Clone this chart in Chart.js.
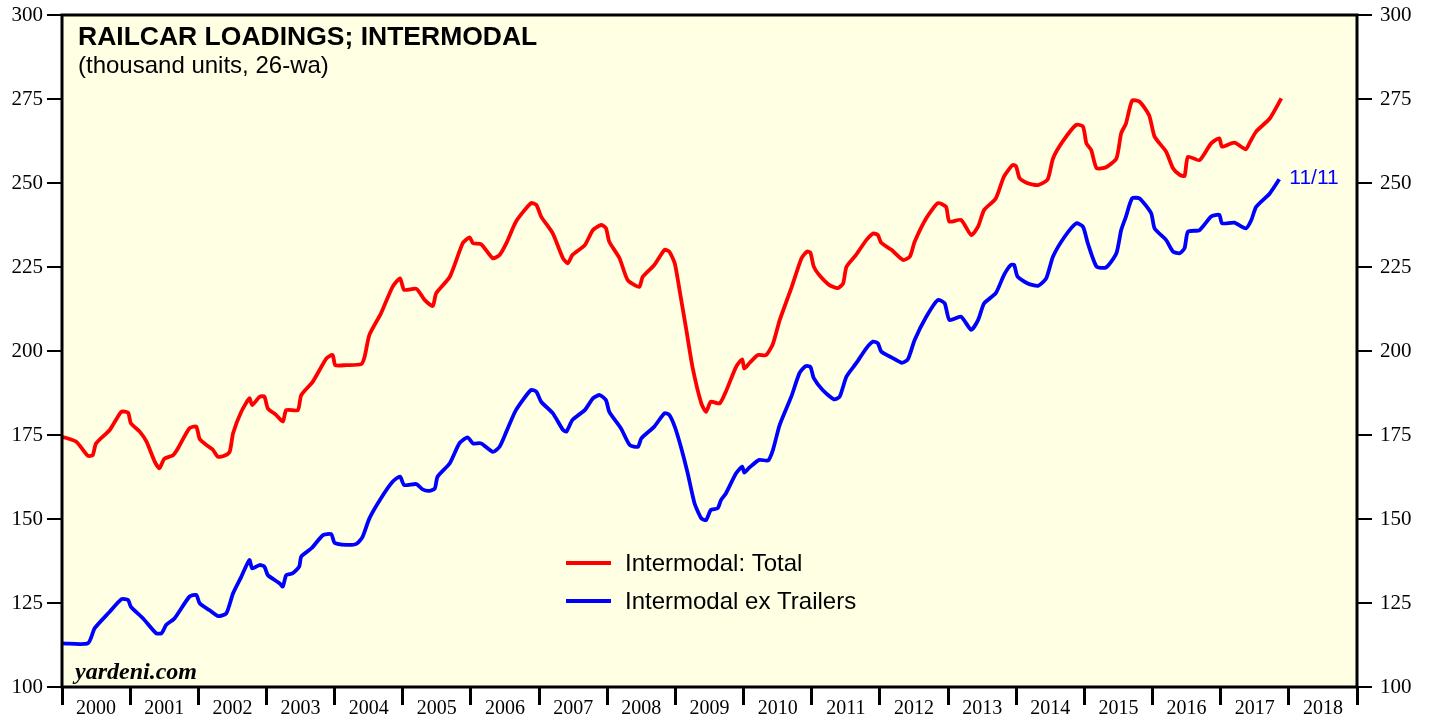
<!DOCTYPE html>
<html>
<head>
<meta charset="utf-8">
<script src="https://cdn.jsdelivr.net/npm/chart.js@4/dist/chart.umd.min.js"></script>
<style>
  html, body { margin: 0; padding: 0; background: #fff; }
  #wrap { width: 1429px; height: 721px; }
</style>
</head>
<body>
<div id="wrap"><canvas id="chart" width="1429" height="721"></canvas></div>
<script>
// x positions are decimal years (weekly series, 26-week average)
const totalYears = [
  2000.00, 2000.21, 2000.38, 2000.45, 2000.50, 2000.70, 2000.87, 2000.97,
  2001.01, 2001.14, 2001.24, 2001.36, 2001.43, 2001.50, 2001.63, 2001.70, 2001.87, 2001.97,
  2002.02, 2002.14, 2002.21, 2002.29, 2002.38, 2002.46, 2002.51, 2002.63, 2002.75, 2002.79, 2002.90, 2002.97,
  2003.02, 2003.14, 2003.24, 2003.29, 2003.46, 2003.51, 2003.68, 2003.88, 2003.97,
  2004.01, 2004.17, 2004.39, 2004.44, 2004.51, 2004.68, 2004.85, 2004.96,
  2005.02, 2005.20, 2005.32, 2005.44, 2005.49, 2005.69, 2005.88, 2005.98,
  2006.03, 2006.15, 2006.32, 2006.42, 2006.52, 2006.66, 2006.88, 2006.96,
  2007.03, 2007.20, 2007.35, 2007.42, 2007.49, 2007.67, 2007.79, 2007.91, 2007.98,
  2008.03, 2008.18, 2008.30, 2008.47, 2008.52, 2008.69, 2008.84, 2008.91, 2008.99,
  2009.06, 2009.16, 2009.25, 2009.38, 2009.45, 2009.52, 2009.65, 2009.74, 2009.89, 2009.98,
  2010.01, 2010.09, 2010.21, 2010.33, 2010.43, 2010.53, 2010.70, 2010.85, 2010.93, 2010.98,
  2011.03, 2011.11, 2011.26, 2011.38, 2011.46, 2011.51, 2011.65, 2011.80, 2011.90, 2011.97,
  2012.02, 2012.17, 2012.34, 2012.44, 2012.51, 2012.68, 2012.85, 2012.97,
  2013.02, 2013.19, 2013.34, 2013.44, 2013.53, 2013.70, 2013.82, 2013.95, 2014.00,
  2014.05, 2014.17, 2014.32, 2014.46, 2014.54, 2014.68, 2014.88, 2014.98,
  2015.03, 2015.10, 2015.18, 2015.32, 2015.47, 2015.54, 2015.61, 2015.70, 2015.81, 2015.95,
  2016.03, 2016.20, 2016.30, 2016.40, 2016.47, 2016.52, 2016.69, 2016.86, 2016.98,
  2017.02, 2017.20, 2017.37, 2017.42, 2017.52, 2017.72, 2017.89
];
const totalValues = [
  174.5, 173.0, 168.8, 169.0, 172.5, 176.5, 181.9, 181.6,
  178.5, 176.0, 173.0, 167.1, 165.1, 167.9, 169.0, 171.0, 177.0, 177.5,
  173.8, 171.7, 170.7, 168.5, 168.8, 170.0, 175.5, 181.9, 185.9, 183.9, 186.4, 186.4,
  182.9, 181.0, 179.0, 182.4, 182.4, 186.9, 190.9, 197.8, 198.8,
  195.8, 195.8, 196.1, 198.3, 204.8, 211.2, 219.1, 221.6,
  218.2, 218.5, 215.2, 213.4, 217.2, 222.1, 232.1, 233.8,
  232.1, 231.8, 227.6, 228.6, 232.1, 238.5, 244.0, 243.5,
  240.0, 235.0, 227.6, 226.1, 228.6, 231.5, 236.0, 237.5, 236.6,
  232.5, 227.6, 221.1, 219.1, 222.1, 225.6, 230.1, 229.6, 226.1,
  218.2, 206.3, 195.3, 184.4, 181.9, 184.9, 184.4, 187.9, 195.3, 197.5,
  194.8, 196.5, 198.8, 198.8, 202.1, 209.2, 218.7, 227.6, 229.6, 229.3,
  225.1, 222.6, 219.6, 218.7, 220.1, 225.1, 228.6, 233.0, 235.0, 234.5,
  232.2, 230.1, 227.1, 228.1, 232.5, 239.5, 244.0, 242.9,
  238.5, 239.0, 234.5, 237.0, 242.0, 245.4, 251.9, 255.4, 254.9,
  251.4, 249.9, 249.4, 251.0, 257.3, 262.3, 267.3, 266.8,
  261.8, 259.8, 254.4, 254.7, 257.3, 264.8, 267.7, 274.5, 274.2, 270.2,
  263.8, 259.3, 254.4, 252.4, 252.1, 257.8, 256.8, 261.8, 263.3,
  260.8, 262.0, 260.0, 261.8, 265.3, 269.2, 275.2
];

const exTrailerYears = [
  2000.00, 2000.38, 2000.48, 2000.70, 2000.87, 2000.97,
  2001.01, 2001.19, 2001.38, 2001.46, 2001.53, 2001.65, 2001.87, 2001.97,
  2002.02, 2002.16, 2002.29, 2002.41, 2002.51, 2002.63, 2002.75, 2002.79, 2002.90, 2002.97,
  2003.02, 2003.19, 2003.24, 2003.29, 2003.38, 2003.48, 2003.51, 2003.66, 2003.83, 2003.95,
  2004.00, 2004.17, 2004.32, 2004.41, 2004.51, 2004.68, 2004.85, 2004.96,
  2005.02, 2005.20, 2005.29, 2005.39, 2005.47, 2005.51, 2005.69, 2005.83, 2005.95,
  2006.03, 2006.15, 2006.32, 2006.42, 2006.52, 2006.66, 2006.88, 2006.96,
  2007.03, 2007.20, 2007.35, 2007.40, 2007.49, 2007.67, 2007.79, 2007.89, 2007.98,
  2008.03, 2008.20, 2008.33, 2008.45, 2008.50, 2008.69, 2008.84, 2008.91, 2008.99,
  2009.08, 2009.18, 2009.28, 2009.38, 2009.45, 2009.52, 2009.62, 2009.67, 2009.74, 2009.89, 2009.98,
  2010.01, 2010.09, 2010.23, 2010.36, 2010.43, 2010.53, 2010.70, 2010.82, 2010.91, 2010.98,
  2011.03, 2011.16, 2011.33, 2011.41, 2011.51, 2011.65, 2011.80, 2011.90, 2011.97,
  2012.02, 2012.17, 2012.32, 2012.41, 2012.51, 2012.68, 2012.85, 2012.95,
  2013.02, 2013.19, 2013.34, 2013.44, 2013.53, 2013.70, 2013.82, 2013.92, 2013.97,
  2014.02, 2014.17, 2014.32, 2014.44, 2014.54, 2014.71, 2014.88, 2014.98,
  2015.05, 2015.18, 2015.32, 2015.47, 2015.54, 2015.61, 2015.70, 2015.81, 2015.98,
  2016.03, 2016.20, 2016.30, 2016.40, 2016.47, 2016.52, 2016.69, 2016.86, 2016.98,
  2017.02, 2017.20, 2017.37, 2017.45, 2017.52, 2017.72, 2017.86
];
const exTrailerValues = [
  113.0, 113.0, 117.5, 122.4, 126.1, 125.9,
  123.9, 120.4, 116.0, 116.0, 118.5, 120.4, 126.9, 127.4,
  124.9, 122.9, 121.1, 121.9, 127.9, 132.8, 137.8, 135.3, 136.3, 135.8,
  133.3, 130.9, 129.9, 133.3, 133.8, 135.8, 138.8, 141.3, 145.2, 145.5,
  142.9, 142.3, 142.6, 144.7, 150.2, 156.2, 161.1, 162.6,
  160.1, 160.4, 158.8, 158.4, 159.1, 162.6, 166.6, 172.5, 174.3,
  172.5, 172.5, 170.0, 171.5, 176.0, 182.4, 188.4, 187.9,
  184.9, 181.5, 176.5, 176.0, 179.5, 182.4, 185.9, 186.9, 185.4,
  181.9, 177.0, 172.0, 171.5, 174.0, 177.5, 181.5, 181.0, 177.5,
  171.5, 163.6, 154.7, 150.2, 149.7, 152.7, 153.2, 155.7, 157.6, 163.6, 165.6,
  163.8, 165.4, 167.6, 167.4, 170.5, 178.0, 186.4, 193.4, 195.5, 195.3,
  191.9, 188.4, 185.6, 186.4, 192.4, 196.3, 200.8, 202.8, 202.3,
  199.8, 198.1, 196.5, 197.5, 203.3, 210.2, 215.2, 214.2,
  209.2, 210.2, 206.3, 209.2, 214.2, 217.2, 222.6, 225.6, 225.6,
  222.1, 220.1, 219.4, 221.6, 228.1, 234.0, 238.0, 237.0,
  232.1, 225.1, 224.9, 229.1, 236.0, 240.0, 245.4, 245.4, 241.0,
  236.5, 233.0, 229.6, 229.1, 230.6, 235.5, 236.0, 240.0, 240.5,
  238.0, 238.2, 236.5, 239.0, 242.9, 246.9, 251.1
];

const yearLabels = [2000, 2001, 2002, 2003, 2004, 2005, 2006, 2007, 2008, 2009,
  2010, 2011, 2012, 2013, 2014, 2015, 2016, 2017, 2018];
const yTicks = [100, 125, 150, 175, 200, 225, 250, 275, 300];
const lastDateLabel = '11/11';

const toPoints = (xs, ys) => xs.map((x, i) => ({ x: x, y: ys[i] }));

const SERIF = '"Liberation Serif", "DejaVu Serif", serif';
const SANS = '"Liberation Sans", Arial, sans-serif';

// keep the plot area fixed: drop the extra room Chart.js reserves for edge labels
function fixBox(w, h) {
  return s => {
    if (w !== null) s.width = w;
    if (h !== null) s.height = h;
    s.paddingTop = 0; s.paddingBottom = 0;
    s.paddingLeft = 0; s.paddingRight = 0;
  };
}

const plotDecor = {
  id: 'plotDecor',
  beforeDraw(chart) {
    const { ctx, chartArea: a } = chart;
    ctx.save();
    ctx.fillStyle = '#ffffff';
    ctx.fillRect(0, 0, chart.width, chart.height);
    ctx.fillStyle = '#FFFFE3';
    ctx.fillRect(a.left, a.top, a.right - a.left, a.bottom - a.top);
    ctx.restore();
  },
  afterDraw(chart) {
    const { ctx, chartArea: a } = chart;
    ctx.save();
    ctx.strokeStyle = '#000';
    ctx.lineWidth = 3;
    ctx.strokeRect(a.left, a.top, a.right - a.left, a.bottom - a.top);

    // titles
    ctx.fillStyle = '#000';
    ctx.textBaseline = 'alphabetic';
    ctx.textAlign = 'left';
    ctx.font = 'bold 26.5px ' + SANS;
    ctx.fillText('RAILCAR LOADINGS; INTERMODAL', a.left + 16, a.top + 30);
    ctx.font = '24px ' + SANS;
    ctx.fillText('(thousand units, 26-wa)', a.left + 16, a.top + 58);

    // source
    ctx.font = 'bold italic 24px ' + SERIF;
    ctx.fillText('yardeni.com', a.left + 13, a.bottom - 8);

    // legend
    const legX = 566, legY = [563, 601];
    chart.data.datasets.forEach((ds, i) => {
      ctx.strokeStyle = ds.borderColor;
      ctx.lineWidth = 4;
      ctx.beginPath();
      ctx.moveTo(legX, legY[i]);
      ctx.lineTo(legX + 45, legY[i]);
      ctx.stroke();
      ctx.fillStyle = '#000';
      ctx.font = '24px ' + SANS;
      ctx.textBaseline = 'alphabetic';
      ctx.fillText(ds.label, legX + 59, legY[i] + 8);
    });

    // last date label at the end of the blue series
    const blue = chart.data.datasets[1].data;
    const last = blue[blue.length - 1];
    const px = chart.scales.x.getPixelForValue(last.x);
    const py = chart.scales.y.getPixelForValue(last.y);
    ctx.fillStyle = '#0000FF';
    ctx.font = '21px ' + SANS;
    ctx.textBaseline = 'alphabetic';
    ctx.fillText(lastDateLabel, px + 10, py + 5);
    ctx.restore();
  }
};

const xTickValues = [];
yearLabels.forEach(y => { xTickValues.push(y); xTickValues.push(y + 0.5); });
xTickValues.push(2019);

new Chart(document.getElementById('chart'), {
  type: 'line',
  data: {
    datasets: [
      {
        label: 'Intermodal: Total',
        data: toPoints(totalYears, totalValues),
        borderColor: '#FF0000',
        borderWidth: 3.8,
        pointRadius: 0,
        tension: 0.2,
        yAxisID: 'y'
      },
      {
        label: 'Intermodal ex Trailers',
        data: toPoints(exTrailerYears, exTrailerValues),
        borderColor: '#0000FF',
        borderWidth: 3.8,
        pointRadius: 0,
        tension: 0.2,
        yAxisID: 'y'
      }
    ]
  },
  options: {
    responsive: false,
    animation: false,
    events: [],
    layout: { padding: { top: 15, left: 0, right: 0, bottom: 0 } },
    plugins: {
      legend: { display: false },
      tooltip: { enabled: false }
    },
    scales: {
      x: {
        type: 'linear',
        min: 2000,
        max: 2019,
        afterBuildTicks: axis => { axis.ticks = xTickValues.map(v => ({ value: v })); },
        afterFit: fixBox(null, 34),
        border: { display: false },
        grid: {
          drawOnChartArea: false,
          drawTicks: true,
          tickLength: 18,
          lineWidth: 3,
          color: c => (Number.isInteger(c.tick.value) ? '#000' : 'rgba(0,0,0,0)')
        },
        ticks: {
          autoSkip: false,
          maxRotation: 0,
          padding: -8,
          color: '#000',
          font: { family: SERIF, size: 20 },
          callback: v => (Number.isInteger(v) ? '' : String(Math.floor(v)))
        }
      },
      y: {
        position: 'left',
        min: 100,
        max: 300,
        afterBuildTicks: axis => { axis.ticks = yTicks.map(v => ({ value: v })); },
        afterFit: fixBox(62, null),
        border: { display: false },
        grid: { drawOnChartArea: false, tickLength: 15, lineWidth: 2, color: '#000' },
        ticks: { padding: 4, color: '#000', font: { family: SERIF, size: 21 } }
      },
      y2: {
        position: 'right',
        min: 100,
        max: 300,
        afterBuildTicks: axis => { axis.ticks = yTicks.map(v => ({ value: v })); },
        afterFit: fixBox(72, null),
        border: { display: false },
        grid: { drawOnChartArea: false, tickLength: 15, lineWidth: 2, color: '#000' },
        ticks: { padding: 8, color: '#000', font: { family: SERIF, size: 21 } }
      }
    }
  },
  plugins: [plotDecor]
});
</script>
</body>
</html>
